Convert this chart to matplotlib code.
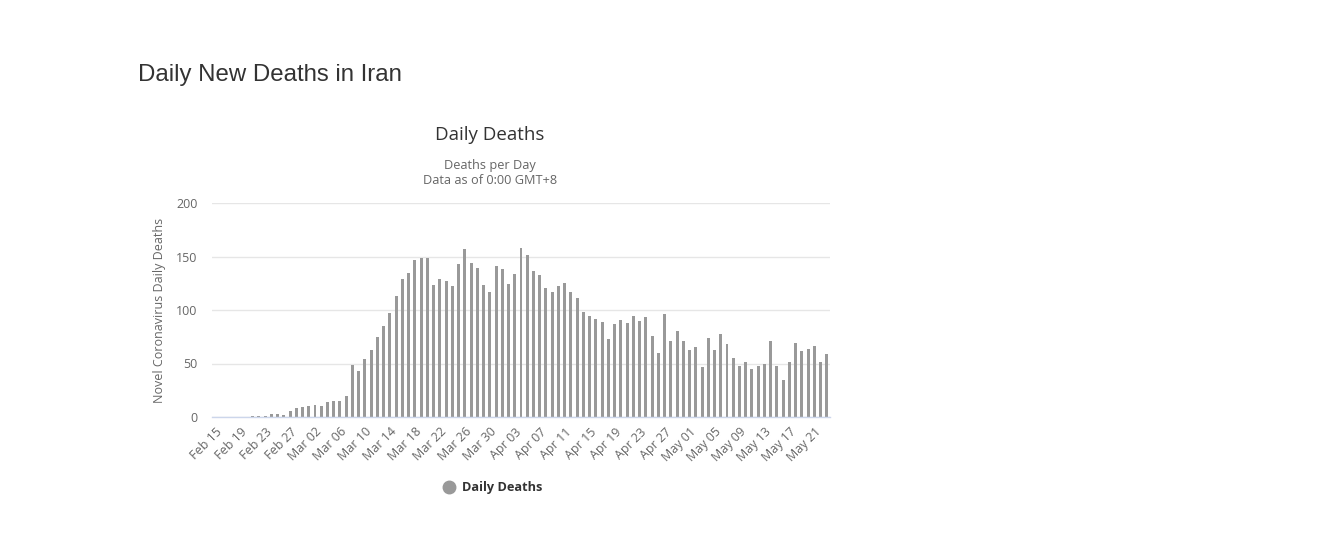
import matplotlib
matplotlib.use("Agg")
import matplotlib.pyplot as plt
from matplotlib.lines import Line2D
import datetime as dt

start = dt.date(2020, 2, 15)
deaths = [0, 0, 0, 0, 0, 0, 1, 1, 1, 3, 3, 2, 6, 8, 9,
          10, 11, 10, 14, 15, 15, 20, 49, 43, 54, 63, 75, 85, 97, 113,
          129, 135, 147, 149, 149, 123, 129, 127, 122, 143, 157, 144, 139, 123, 117,
          141, 138, 124, 134, 158, 151, 136, 133, 121, 117, 122, 125, 117, 111, 98,
          94, 92, 89, 73, 87, 91, 88, 94, 90, 93, 76, 60, 96, 71, 80,
          71, 63, 65, 47, 74, 63, 78, 68, 55, 48, 51, 45, 48, 50, 71,
          48, 35, 51, 69, 62, 64, 66, 51, 59]
dates = [start + dt.timedelta(days=i) for i in range(len(deaths))]
tick_labels = [d.strftime("%b %d") for d in dates]
y_ticks = [0, 50, 100, 150, 200]

W, H = 1339, 537
fig = plt.figure(figsize=(W / 100, H / 100), dpi=100)
fig.patch.set_facecolor("white")
ax = fig.add_axes([212 / W, 1 - 417 / H, 618 / W, 214 / H])

x = list(range(len(deaths)))
ax.bar(x, deaths, width=0.48, color="#999999", zorder=2)
ax.set_xlim(-0.5, len(deaths) - 0.5)
ax.set_ylim(0, 200)
ax.set_yticks(y_ticks)
ax.set_yticklabels([str(v) for v in y_ticks], fontsize=9, color="#666666", family="Open Sans")
ax.yaxis.grid(True, color="#e6e6e6", linewidth=1, zorder=0)
ax.tick_params(axis="y", length=0, pad=10.5)

tick_pos = list(range(0, len(deaths), 4))
ax.set_xticks(tick_pos)
ax.set_xticklabels([tick_labels[i] for i in tick_pos], rotation=45, ha="right",
                   rotation_mode="anchor", fontsize=9, color="#666666", family="Open Sans")
ax.tick_params(axis="x", length=0, pad=6)

for s in ["top", "right", "left"]:
    ax.spines[s].set_visible(False)
ax.spines["bottom"].set_color("#ccd6eb")
ax.spines["bottom"].set_linewidth(1)

ax.set_ylabel("Novel Coronavirus Daily Deaths", fontsize=9, color="#666666",
              family="Open Sans")
ax.yaxis.set_label_coords(-(212 - 166) / 618, 0.5)

fig.text(138 / W, 1 - 75 / H, "Daily New Deaths in Iran", fontsize=17.3,
         color="#333333", family="Liberation Sans", ha="left", va="center")
fig.text(490 / W, 1 - 135 / H, "Daily Deaths", fontsize=13.5, color="#333333",
         family="Open Sans", ha="center", va="center")
fig.text(490 / W, 1 - 165 / H, "Deaths per Day", fontsize=9.2, color="#666666",
         family="Open Sans", ha="center", va="center")
fig.text(490 / W, 1 - 180 / H, "Data as of 0:00 GMT+8", fontsize=9.2, color="#666666",
         family="Open Sans", ha="center", va="center")

fig.add_artist(Line2D([449 / W], [1 - 487 / H], transform=fig.transFigure,
                      marker="o", markersize=9, color="#999999", linestyle="none"))
fig.text(462 / W, 1 - 487 / H, "Daily Deaths", fontsize=9.2, color="#333333",
         family="Open Sans", fontweight="bold", ha="left", va="center")

fig.savefig("out.png", dpi=100, facecolor="white")
